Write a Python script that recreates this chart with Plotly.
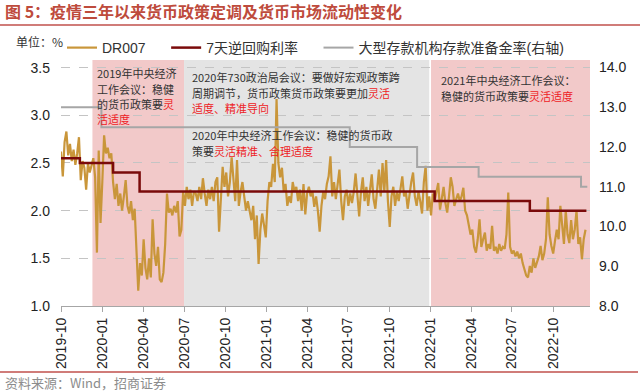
import pandas as pd
import plotly.graph_objects as go

# ---------------- data ----------------
dr007_start = "2019-10-01"
dr007_step_days = 4
dr007 = [
    2.62, 2.36, 2.72, 2.83, 2.58, 2.70, 2.52, 2.64, 2.48, 2.60,
    2.77, 2.32, 2.52, 2.45, 2.22, 2.50, 2.40, 2.47, 2.55, 2.35,
    1.56, 2.63, 1.87, 2.30, 2.79, 2.60, 2.66, 2.55, 2.60, 2.30,
    2.12, 2.28, 2.05, 2.18, 2.00, 2.15, 2.32, 2.05, 1.97, 2.10,
    1.90, 2.02, 1.65, 1.16, 1.45, 1.32, 1.70, 1.40, 1.28, 1.50,
    1.30, 1.91, 1.55, 1.42, 1.62, 1.28, 1.25, 1.35, 1.65, 2.18,
    1.98, 2.02, 1.95, 2.05, 1.98, 2.10, 1.73, 1.80, 2.20, 2.05,
    2.25, 2.12, 2.22, 2.05, 2.20, 2.18, 2.10, 2.25, 2.12, 2.34,
    2.18, 2.05, 2.22, 2.12, 2.25, 2.10, 2.30, 2.35, 1.78, 2.20,
    2.46, 2.25, 2.40, 2.15, 2.30, 2.56, 2.35, 2.10, 2.53, 2.05,
    2.20, 2.30, 2.15, 2.00, 2.10, 1.98, 1.90, 2.05, 1.70, 1.95,
    1.44, 1.80, 1.97, 1.85, 1.72, 2.10, 2.30, 2.25, 2.49, 2.30,
    3.17, 2.50, 2.35, 2.45, 2.20, 2.28, 2.05, 2.15, 2.08, 2.30,
    2.20, 2.25, 2.10, 2.22, 2.00, 2.28, 1.96, 2.18, 2.25, 2.15,
    2.20, 2.04, 2.15, 2.00, 1.78, 2.05, 2.20, 2.12, 2.28, 2.36,
    2.57, 2.15, 2.30, 2.12, 2.25, 2.43, 2.10, 1.90, 2.15, 2.22,
    2.05, 2.18, 2.08, 2.20, 2.39, 2.15, 1.94, 2.20, 2.35, 2.10,
    2.25, 2.05, 2.20, 2.38, 2.12, 2.02, 2.22, 2.43, 2.15, 2.50,
    2.20, 2.53, 2.10, 1.83, 2.15, 2.25, 2.05, 2.20, 2.10, 2.22,
    2.36, 2.15, 2.20, 2.02, 2.18, 2.30, 2.40, 2.15, 2.05, 2.20,
    2.10, 1.97, 2.30, 2.47, 2.00, 2.15, 1.95, 2.18, 2.10, 2.20,
    2.29, 2.01, 2.15, 2.25, 2.08, 1.98, 2.15, 2.35, 2.25, 2.05,
    2.12, 2.18, 2.10, 2.15, 2.24, 2.00, 1.95, 1.84, 1.75, 1.80,
    1.62, 1.56, 1.70, 1.91, 1.62, 1.70, 1.77, 1.58, 1.65, 1.60,
    1.84, 1.58, 1.62, 1.55, 1.65, 1.58, 1.62, 1.60, 1.75, 2.19,
    1.62, 1.55, 1.58, 1.52, 1.57, 1.50, 1.55, 1.45, 1.38, 1.32,
    1.30, 1.42, 1.35, 1.50, 1.40, 1.45, 1.52, 1.63, 1.48, 1.55,
    1.70, 2.14, 1.75, 1.63, 1.55, 1.68, 1.80, 1.70, 2.05, 1.85,
    1.65, 2.00, 1.75, 1.66, 1.90, 1.70, 1.80, 2.00, 1.65, 1.72,
    1.49, 1.70, 1.80,
]
dr007_dates = pd.date_range(dr007_start, periods=len(dr007), freq=f"{dr007_step_days}D")

repo_dates = ["2019-10-01", "2019-11-12", "2020-01-25", "2020-03-24",
              "2022-01-10", "2022-08-10", "2022-12-14"]
repo_rate = [2.55, 2.50, 2.40, 2.20, 2.10, 2.00, 2.00]

rrr_dates = ["2019-10-01", "2019-12-30", "2021-07-05", "2021-12-02",
             "2022-04-18", "2022-12-02", "2022-12-16"]
rrr_rate = [13.0, 12.5, 12.0, 11.5, 11.25, 11.0, 11.0]

# shaded periods: (start, end, colour)
periods = [
    ("2019-12-10", "2020-07-01", "#F2C9C9"),
    ("2020-07-01", "2021-12-29", "#E4E4E4"),
    ("2022-01-02", "2022-12-22", "#F2C9C9"),
]

x_range = ["2019-10-01", "2022-12-22"]
x_ticks = ["2019-10-01", "2020-01-01", "2020-04-01", "2020-07-01", "2020-10-01",
           "2021-01-01", "2021-04-01", "2021-07-01", "2021-10-01", "2022-01-01",
           "2022-04-01", "2022-07-01", "2022-10-01"]
x_tick_labels = [d[:7] for d in x_ticks]

RED = "#EE1C25"
TXT = "#333333"
FONT = "Liberation Sans, Arial, Noto Sans CJK SC"
CJK = "Noto Sans CJK SC, Liberation Sans"

fig = go.Figure()
fig.add_trace(go.Scatter(x=dr007_dates, y=dr007, name="DR007" + "\u00a0" * 4, mode="lines",
                         line=dict(color="#C9963A", width=2.2)))
fig.add_trace(go.Scatter(x=repo_dates, y=repo_rate, name="7天逆回购利率" + "\u00a0" * 4, mode="lines",
                         line=dict(color="#7A0A0A", width=2.5, shape="hv")))
fig.add_trace(go.Scatter(x=rrr_dates, y=rrr_rate, name="大型存款机构存款准备金率(右轴)",
                         mode="lines", yaxis="y2",
                         line=dict(color="#A6A6A6", width=2, shape="hv")))

for s, e, c in periods:
    fig.add_shape(type="rect", xref="x", yref="paper", x0=s, x1=e, y0=0, y1=1,
                  fillcolor=c, line_width=0, layer="below")

W, H = 640, 392
L, R, T, B = 61, 50, 60, 86
pw, ph = W - L - R, H - T - B


def px(x):
    return (x - L) / pw


def py(y):
    return (H - B - y) / ph


# rules under title and above source
fig.add_shape(type="line", xref="paper", yref="paper", x0=px(0), x1=px(640), y0=py(25), y1=py(25),
              line=dict(color="#C0504D", width=1.5))
fig.add_shape(type="line", xref="paper", yref="paper", x0=px(0), x1=px(638), y0=py(372), y1=py(372),
              line=dict(color="#C0504D", width=1.5))


def red(s):
    return f"<span style='color:{RED}'>{s}</span>"


# each note: left x, first-line centre y, list of lines
notes = [
    (96, 73, ["2019年中央经济", "工作会议：稳健", "的货币政策要" + red("灵"), red("活适度")]),
    (191, 77, ["2020年730政治局会议：要做好宏观政策跨",
               "周期调节，货币政策货币政策要更加" + red("灵活"),
               red("适度、精准导向")]),
    (191, 135, ["2020年中央经济工作会议：稳健的货币政", "策要" + red("灵活精准、合理适度")]),
    (440, 80, ["2021年中央经济工作会议：", "稳健的货币政策要" + red("灵活适度")]),
]
LINE_H = 15.5
for x, y0, lines in notes:
    for k, t in enumerate(lines):
        fig.add_annotation(x=px(x), y=py(y0 + k * LINE_H), xref="paper", yref="paper", text=t,
                           showarrow=False, xanchor="left", yanchor="middle", align="left",
                           borderpad=0, font=dict(family=CJK, size=11, color="#333333"))

fig.add_annotation(x=px(15), y=py(42), xref="paper", yref="paper", text="单位：%", showarrow=False,
                   xanchor="left", yanchor="middle", borderpad=0,
                   font=dict(family=CJK, size=12, color="#333333"))
fig.add_annotation(x=px(4), y=py(382), xref="paper", yref="paper", text="资料来源：Wind，招商证券",
                   showarrow=False, xanchor="left", yanchor="middle", borderpad=0,
                   font=dict(family=CJK, size=13, color="#8C8C8C"))

fig.update_layout(
    width=W, height=H,
    margin=dict(l=L, r=R, t=T, b=B, autoexpand=False),
    paper_bgcolor="white", plot_bgcolor="white",
    font=dict(family=FONT, size=14, color=TXT),
    title=dict(text="<b>图 5：疫情三年以来货币政策定调及货币市场流动性变化</b>",
               x=5 / W, xref="container", xanchor="left",
               y=1 - 12 / H, yref="container", yanchor="middle",
               font=dict(family=CJK, size=16, color="#BE4B3C")),
    showlegend=True,
    legend=dict(orientation="h", x=px(62), y=py(48), xref="paper", yref="paper",
                xanchor="left", yanchor="middle", bgcolor="rgba(0,0,0,0)",
                font=dict(family=FONT, size=14, color="#333333"), itemwidth=30,
                traceorder="normal"),
    xaxis=dict(type="date", range=x_range, tickvals=x_ticks, ticktext=x_tick_labels,
               tickangle=-90, showgrid=False, showline=True, linecolor="#A6A6A6",
               ticks="outside", ticklen=5, tickcolor="#A6A6A6", automargin=False,
               tickfont=dict(size=14, color="#222222"), zeroline=False),
    yaxis=dict(range=[1.0, 3.58], tickvals=[1.0, 1.5, 2.0, 2.5, 3.0, 3.5],
               tickformat=".1f", showgrid=True, gridcolor="#C4C4C4", griddash="dash",
               gridwidth=1, zeroline=False, showline=False, ticks="", automargin=False,
               ticklabelstandoff=10, tickfont=dict(size=14, color="#222222")),
    yaxis2=dict(range=[8.0, 14.19], tickvals=[8, 9, 10, 11, 12, 13, 14], tickformat=".1f",
                overlaying="y", side="right", showgrid=False, zeroline=False, showline=False,
                ticks="", ticklabelstandoff=8, automargin=False,
                tickfont=dict(size=14, color="#222222")),
)

fig.write_html("out.html", config={"displayModeBar": False},
               post_script="document.body.style.margin='0';document.body.style.overflow='hidden';")
